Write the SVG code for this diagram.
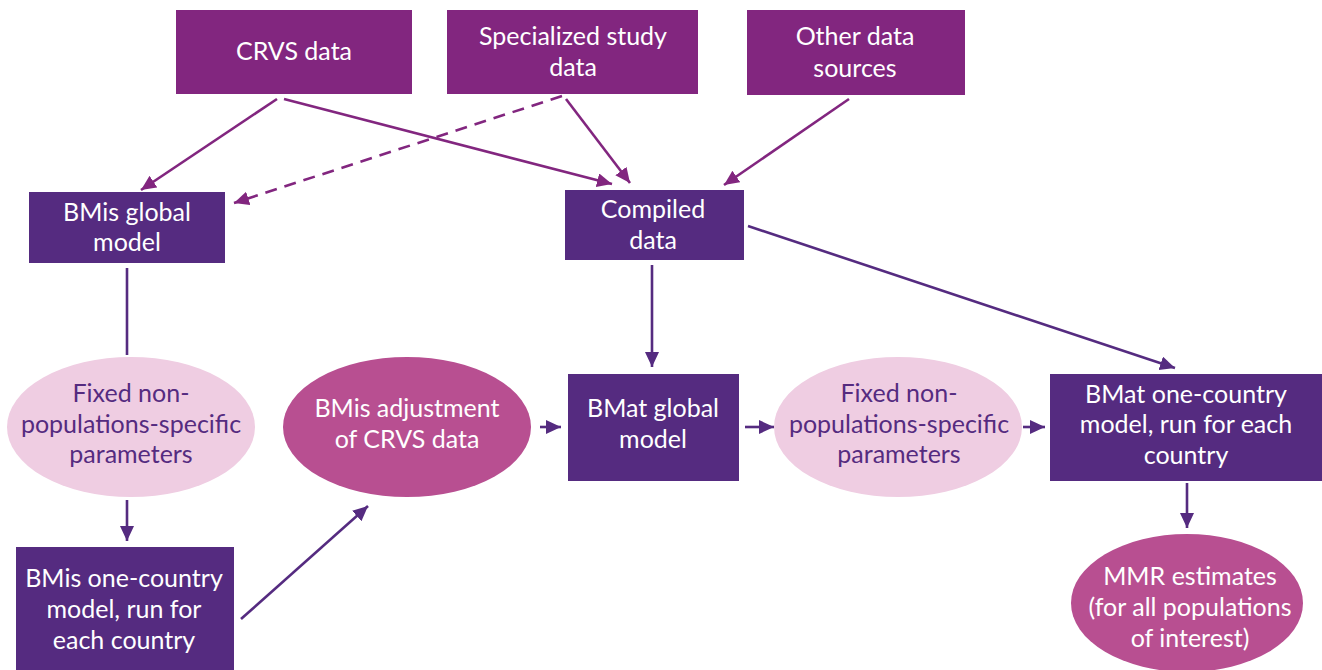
<svg xmlns="http://www.w3.org/2000/svg" width="1322" height="670" viewBox="0 0 1322 670">
<style>
.src{fill:#82267f}
.mdl{fill:#552b80}
.pale{fill:#efcde2}
.mag{fill:#b84f91}
text{font-family:Lato,"Liberation Sans",sans-serif;font-size:25px;text-anchor:middle}
.w{fill:#ffffff}
.d{fill:#552b80}
.c1{stroke:#82267f;stroke-width:2.6;fill:none}
.c2{stroke:#552b80;stroke-width:2.6;fill:none}
.dash{stroke-dasharray:12 8}
</style>
<defs>
<marker id="a1" markerUnits="userSpaceOnUse" markerWidth="16" markerHeight="16" refX="15" refY="7" orient="auto">
<path d="M0,0 L15,7 L0,14 z" fill="#82267f"/>
</marker>
<marker id="a2" markerUnits="userSpaceOnUse" markerWidth="16" markerHeight="16" refX="15" refY="7" orient="auto">
<path d="M0,0 L15,7 L0,14 z" fill="#552b80"/>
</marker>
</defs>
<rect width="1322" height="670" fill="#ffffff"/>
<g id="connectors">
<line class="c1" x1="277" y1="99" x2="141" y2="190" marker-end="url(#a1)"/>
<line class="c1" x1="284" y1="99" x2="612" y2="184" marker-end="url(#a1)"/>
<line class="c1 dash" x1="562" y1="96" x2="234" y2="203" marker-end="url(#a1)"/>
<line class="c1" x1="566" y1="99" x2="630" y2="183" marker-end="url(#a1)"/>
<line class="c1" x1="849" y1="99" x2="724" y2="185" marker-end="url(#a1)"/>
<line class="c2" x1="748" y1="226" x2="1175" y2="368" marker-end="url(#a2)"/>
<line class="c2" x1="652" y1="265" x2="652" y2="367" marker-end="url(#a2)"/>
<line class="c2" x1="127" y1="268" x2="127" y2="355"/>
<line class="c2" x1="127" y1="500" x2="127" y2="541" marker-end="url(#a2)"/>
<line class="c2" x1="241" y1="619" x2="368" y2="506" marker-end="url(#a2)"/>
<line class="c2" x1="540" y1="427" x2="561" y2="427" marker-end="url(#a2)"/>
<line class="c2" x1="745" y1="427" x2="774" y2="427" marker-end="url(#a2)"/>
<line class="c2" x1="1023" y1="427" x2="1045" y2="427" marker-end="url(#a2)"/>
<line class="c2" x1="1187" y1="483" x2="1187" y2="528" marker-end="url(#a2)"/>
</g>
<g id="crvs">
<rect class="src" x="176" y="10" width="236" height="84"/>
<text class="w" x="294" y="60">CRVS data</text>
</g>
<g id="specialized">
<rect class="src" x="447" y="10" width="251" height="84"/>
<text class="w" x="573" y="45">Specialized study</text>
<text class="w" x="573" y="76">data</text>
</g>
<g id="other">
<rect class="src" x="747" y="10" width="218" height="85"/>
<text class="w" x="855" y="45">Other data</text>
<text class="w" x="855" y="77">sources</text>
</g>
<g id="bmis-global">
<rect class="mdl" x="29" y="192" width="196" height="71"/>
<text class="w" x="127" y="221">BMis global</text>
<text class="w" x="127" y="251">model</text>
</g>
<g id="compiled">
<rect class="mdl" x="565" y="190" width="179" height="70"/>
<text class="w" x="653" y="218">Compiled</text>
<text class="w" x="653" y="249">data</text>
</g>
<g id="fixed-left">
<ellipse class="pale" cx="131" cy="427" rx="124" ry="70"/>
<text class="d" x="131" y="402">Fixed non-</text>
<text class="d" x="131" y="433">populations-specific</text>
<text class="d" x="131" y="463">parameters</text>
</g>
<g id="bmis-adjustment">
<ellipse class="mag" cx="407" cy="427" rx="124" ry="70"/>
<text class="w" x="407" y="417">BMis adjustment</text>
<text class="w" x="407" y="448">of CRVS data</text>
</g>
<g id="bmat-global">
<rect class="mdl" x="568" y="374" width="171" height="107"/>
<text class="w" x="653" y="417">BMat global</text>
<text class="w" x="653" y="448">model</text>
</g>
<g id="fixed-right">
<ellipse class="pale" cx="898" cy="427" rx="124" ry="70"/>
<text class="d" x="899" y="402">Fixed non-</text>
<text class="d" x="899" y="433">populations-specific</text>
<text class="d" x="899" y="463">parameters</text>
</g>
<g id="bmat-one">
<rect class="mdl" x="1050" y="374" width="272" height="107"/>
<text class="w" x="1186" y="403">BMat one-country</text>
<text class="w" x="1186" y="433">model, run for each</text>
<text class="w" x="1186" y="464">country</text>
</g>
<g id="bmis-one">
<rect class="mdl" x="16" y="547" width="218" height="130"/>
<text class="w" x="124" y="587">BMis one-country</text>
<text class="w" x="124" y="618">model, run for</text>
<text class="w" x="124" y="649">each country</text>
</g>
<g id="mmr">
<ellipse class="mag" cx="1187" cy="603" rx="116" ry="69"/>
<text class="w" x="1190" y="585">MMR estimates</text>
<text class="w" x="1190" y="616">(for all populations</text>
<text class="w" x="1190" y="647">of interest)</text>
</g>
</svg>
